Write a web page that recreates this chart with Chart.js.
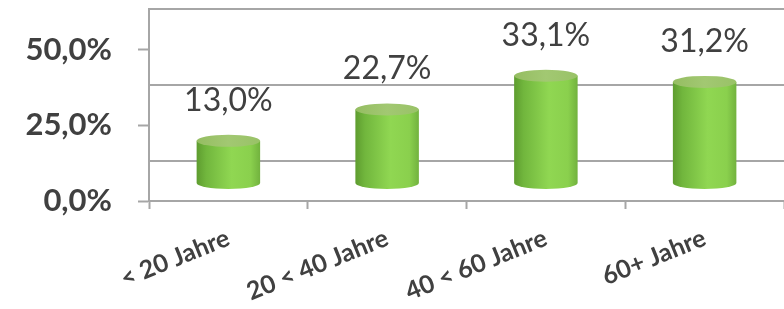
<!DOCTYPE html>
<html>
<head>
<meta charset="utf-8">
<script src="https://cdn.jsdelivr.net/npm/chart.js@4.4.1/dist/chart.umd.min.js"></script>
<style>
  html, body { margin: 0; padding: 0; background: #ffffff; }
  #wrap { width: 784px; height: 309px; position: relative; }
</style>
</head>
<body>
<div id="wrap"><canvas id="ageChart"></canvas></div>
<script>
const categories = ["< 20 Jahre", "20 < 40 Jahre", "40 < 60 Jahre", "60+ Jahre"];
const shares = [13.0, 22.7, 33.1, 31.2];
const yTicks = [0, 25, 50];

const gridGray = "#a6a6a6";
const textGray = "#404040";

function pct(v) {
  return v.toFixed(1).replace(".", ",") + "%";
}

// draws the bars as green cylinders and puts the value above each one
const cylinderPlugin = {
  id: "cylinders",
  afterDatasetsDraw(chart) {
    const ctx = chart.ctx;
    const meta = chart.getDatasetMeta(0);
    meta.data.forEach((bar, i) => {
      const w = bar.width;
      const left = bar.x - w / 2;
      const right = bar.x + w / 2;
      const ry = 6;

      const body = ctx.createLinearGradient(left, 0, right, 0);
      body.addColorStop(0, "#5e9c2f");
      body.addColorStop(0.15, "#71b63d");
      body.addColorStop(0.55, "#90d752");
      body.addColorStop(0.85, "#8ad04d");
      body.addColorStop(1, "#72b23e");

      ctx.save();
      ctx.beginPath();
      ctx.moveTo(left, bar.y);
      ctx.lineTo(left, bar.base);
      ctx.ellipse(bar.x, bar.base, w / 2, ry, 0, Math.PI, 0, true);
      ctx.lineTo(right, bar.y);
      ctx.closePath();
      ctx.fillStyle = body;
      ctx.fill();

      const top = ctx.createLinearGradient(left, 0, right, 0);
      top.addColorStop(0, "#95bd62");
      top.addColorStop(0.5, "#a2c872");
      top.addColorStop(1, "#99c267");
      ctx.beginPath();
      ctx.ellipse(bar.x, bar.y, w / 2, ry, 0, 0, Math.PI * 2);
      ctx.fillStyle = top;
      ctx.fill();

      ctx.font = "32px Lato, sans-serif";
      ctx.fillStyle = textGray;
      ctx.textAlign = "center";
      ctx.textBaseline = "alphabetic";
      ctx.fillText(pct(shares[i]), bar.x, bar.y - 30);
      ctx.restore();
    });
  }
};

function noPad(s) {
  s.paddingTop = 0;
  s.paddingBottom = 0;
}

function createAgeChart() {
  const ctx = document.getElementById("ageChart");
  if (!ctx) return;

  new Chart(ctx, {
    type: "bar",
    data: {
      labels: categories,
      datasets: [
        {
          data: shares,
          yAxisID: "yData",
          backgroundColor: "rgba(0,0,0,0)",
          borderWidth: 0,
          barPercentage: 0.4,
          categoryPercentage: 1
        }
      ]
    },
    options: {
      responsive: true,
      maintainAspectRatio: false,
      animation: false,
      layout: { padding: { top: 9, left: 0, right: 0, bottom: 0 } },
      plugins: {
        legend: { display: false },
        tooltip: { enabled: false }
      },
      scales: {
        x: {
          offset: true,
          grid: {
            drawOnChartArea: false,
            drawTicks: true,
            tickLength: 8,
            tickWidth: 2,
            tickColor: gridGray,
            offset: true
          },
          border: { display: true, color: gridGray, width: 2 },
          ticks: {
            color: textGray,
            font: { family: "Lato, sans-serif", size: 25, weight: "bold" },
            minRotation: 22,
            maxRotation: 22,
            padding: 14
          },
          afterFit: s => {
            s.height = 108;
            s.paddingLeft = 0;
            s.paddingRight = 0;
          }
        },
        y: {
          position: "left",
          min: 0,
          max: 63.37,
          grid: {
            drawOnChartArea: false,
            drawTicks: true,
            tickLength: 11,
            tickWidth: 2,
            tickColor: gridGray
          },
          border: { display: true, color: gridGray, width: 2 },
          ticks: {
            color: textGray,
            font: { family: "Lato, sans-serif", size: 31, weight: "bold" },
            padding: 26,
            callback: v => pct(v)
          },
          afterBuildTicks: s => { s.ticks = yTicks.map(v => ({ value: v })); },
          afterFit: s => {
            s.width = 149;
            noPad(s);
          }
        },
        yData: {
          position: "left",
          display: false,
          min: -5.56,
          max: 53.7
        },
        yBack: {
          position: "right",
          min: -13.3,
          max: 50,
          grid: {
            drawOnChartArea: true,
            drawTicks: false,
            color: gridGray,
            lineWidth: 2
          },
          border: { display: false },
          ticks: { display: false },
          afterBuildTicks: s => { s.ticks = yTicks.map(v => ({ value: v })); },
          afterFit: s => {
            s.width = 0;
            noPad(s);
          }
        }
      }
    },
    plugins: [cylinderPlugin]
  });
}

createAgeChart();
</script>
</body>
</html>
